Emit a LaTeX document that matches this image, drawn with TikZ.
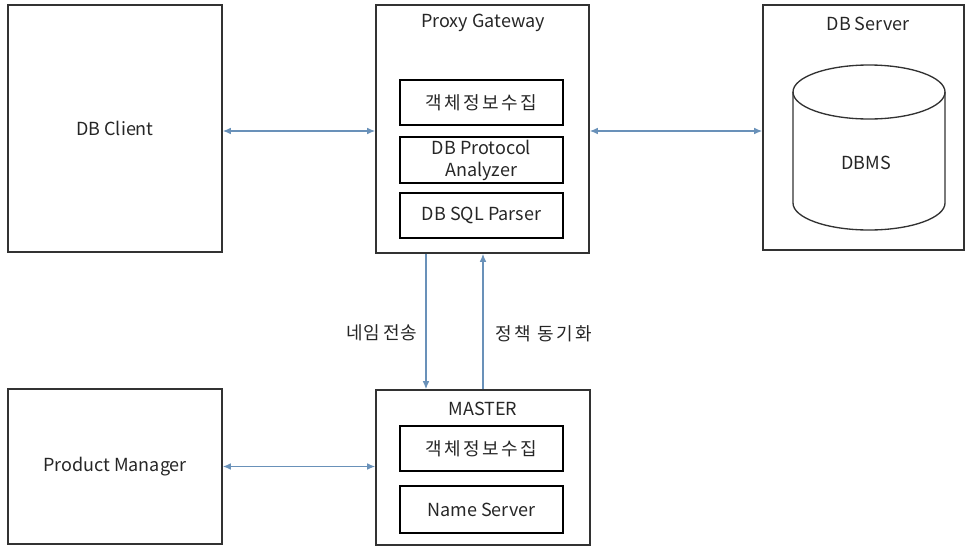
\documentclass[tikz,border=0pt]{standalone}
\usepackage{fontspec}
\setmainfont{Noto Sans CJK KR}
\newfontfamily\hangul[LetterSpace=14]{Noto Sans CJK KR}
\usetikzlibrary{arrows.meta}
\definecolor{linkblue}{RGB}{105,145,185}
\definecolor{boxgray}{RGB}{50,50,50}

\begin{document}
\begin{tikzpicture}[x=0.75pt, y=-0.75pt,
  every node/.style={font=\fontsize{13.5}{16.5}\selectfont, text=black!85},
  block/.style={rectangle, draw=boxgray, line width=1.3pt, inner sep=0pt},
  part/.style={rectangle, draw=black, line width=1.3pt, inner sep=0pt, minimum width=122.25pt, align=center},
  link/.style={draw=linkblue, line width=0.8pt, {Latex[length=6pt,width=5pt]}-{Latex[length=6pt,width=5pt]}},
  oneway/.style={draw=linkblue, line width=0.8pt, -{Latex[length=6pt,width=5pt]}}]
\useasboundingbox (0,0) rectangle (968,547);

\node [block, minimum width=160.5pt, minimum height=185.25pt] (client) at (115,128.5) {DB Client};
\node [block, minimum width=159.75pt, minimum height=186pt] (proxy) at (482.5,129) {};
\node [block, minimum width=150.75pt, minimum height=183.75pt] (server) at (863.5,127.5) {};
\node [block, minimum width=160.5pt, minimum height=116.25pt] (pm) at (115,466.5) {Product Manager};
\node [block, minimum width=160.5pt, minimum height=116.25pt] (master) at (483,467.5) {};

\node (proxytitle) at (483,23) {Proxy Gateway};
\node (servertitle) at (868,24) {DB Server};
\node (mastertitle) at (483,409) {MASTER};

\node [part, minimum height=33.75pt] (collect) at (481.5,102.5) {\hangul 객체정보수집};
\node [part, minimum height=34.5pt] (analyzer) at (481.5,160) {DB Protocol\\Analyzer};
\node [part, minimum height=33.75pt] (parser) at (481.5,215.5) {DB SQL Parser};
\node [part, minimum height=33.75pt] (mcollect) at (481.5,448.5) {\hangul 객체정보수집};
\node [part, minimum height=35.25pt] (nameserver) at (481.5,509.5) {Name Server};

\draw [boxgray, line width=1pt] (793,92) -- (793,203) arc [start angle=180, end angle=0, x radius=76, y radius=27] -- (945,92);
\draw [boxgray, line width=1pt] (869,92) ellipse [x radius=76, y radius=27];
\node (dbms) at (866,163) {DBMS};

\draw [link] (client.east |- 0,131) -- (proxy.west |- 0,131);
\draw [link] (proxy.east |- 0,131) -- (server.west |- 0,131);
\draw [link] (pm.east) -- (pm.east -| master.west);
\coordinate (down) at ([xshift=-42.4pt]proxy.south);
\draw [oneway] (down) -- (down |- master.north) node [left=3pt, pos=0.58] (sendname) {네임 전송};
\draw [oneway] (master.north) -- (master.north |- proxy.south) node [right=5.5pt, pos=0.41] (sync) {\hangul 정책 동기화};

\end{tikzpicture}
\end{document}
